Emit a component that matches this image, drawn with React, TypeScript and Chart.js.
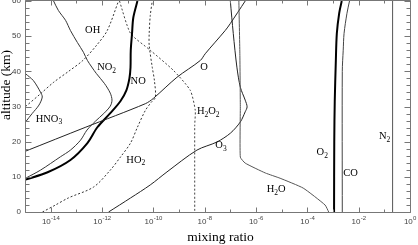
import React, { useEffect, useRef } from "react";
import { Chart, registerables } from "chart.js";

Chart.register(...registerables);

// ---- axes ----
const xTickExponents = [-15, -14, -13, -12, -11, -10, -9, -8, -7, -6, -5, -4, -3, -2, -1, 0];
const yTickValues = [0, 10, 20, 30, 40, 50, 60];
const xTitle = "mixing ratio";
const yTitle = "altitude (km)";

// ---- species profiles (mixing ratio, altitude km) ----
const n2Ratio = [0.21, 0.21];
const n2Alt = [0, 60];

const coRatio = [2.3e-3, 2.3e-3, 2.5e-3, 2.7e-3, 3.5e-3, 4.4e-3];
const coAlt = [0, 40, 46, 50.8, 56.5, 60];

const o2Ratio = [1.1e-3, 1.12e-3, 1.17e-3, 1.29e-3, 1.41e-3, 1.74e-3, 2.19e-3];
const o2Alt = [0, 20, 31.5, 43, 50.8, 56.5, 60];

const h2oRatio = [6.8e-4, 4.9e-4, 6.9e-5, 8.7e-6, 2.3e-6, 3.8e-7, 2.45e-7, 2.45e-7, 2.35e-7, 2.15e-7];
const h2oAlt = [0, 2.0, 6.8, 9.6, 11.1, 13.9, 15.6, 30, 45, 60];

const o3Ratio = [1.8e-12, 1.3e-11, 7.6e-11, 3.4e-10, 5.0e-9, 3.0e-8, 1.0e-7, 2.45e-7, 3.8e-7, 4.5e-7, 3.8e-7, 2.45e-7, 1.8e-7, 1.3e-7, 1.0e-7];
const o3Alt = [0, 4.0, 7.7, 11.4, 17.6, 19.9, 22.4, 25.6, 28.5, 29.9, 31.8, 35.5, 41.2, 50.8, 60];

const oRatio = [1.05e-15, 2.2e-13, 4.9e-11, 1.0e-10, 8.3e-10, 6.8e-9, 1.05e-8, 6.3e-8, 1.0e-7, 3.8e-7];
const oAlt = [17.3, 24.05, 30.8, 32.3, 38.3, 43.1, 45.0, 51.6, 53.6, 60];

const hno3Ratio = [1.05e-15, 2.1e-15, 4.0e-15, 4.7e-15, 3.5e-15, 1.9e-15, 1.05e-15];
const hno3Alt = [39.3, 37.4, 34.1, 32.7, 30.4, 28.0, 25.6];

const ohRatio = [1.05e-15, 4.0e-15, 1.26e-14, 5.0e-14, 1.8e-13, 6.3e-13, 1.6e-12, 4.4e-12];
const ohAlt = [30.0, 33.6, 36.8, 40.0, 43.1, 47.5, 51.6, 60];

const no2Ratio = [1.3e-14, 2.0e-14, 3.8e-14, 5.9e-14, 1.1e-13, 1.9e-13, 2.7e-13, 6.0e-13, 1.23e-12, 2.1e-12, 2.45e-12, 2.1e-12, 1.17e-12, 5.5e-13, 2.6e-13, 1.45e-13, 5.9e-14, 2.4e-14, 4.0e-15, 1.05e-15];
const no2Alt = [60, 57.3, 54.5, 51.6, 48.2, 45.4, 43.1, 39.4, 36.6, 33.8, 31.8, 30.1, 28.0, 25.8, 23.3, 20.4, 17.6, 15.7, 11.9, 9.6];

const noRatio = [2.4e-11, 1.66e-11, 1.48e-11, 1.32e-11, 1.29e-11, 1.17e-11, 8.9e-12, 5.2e-12, 2.1e-12, 6.6e-13, 2.7e-13, 5.9e-14, 7.6e-15, 1.05e-15];
const noAlt = [60, 55.3, 50.8, 46.0, 41.1, 38.0, 34.6, 31.5, 28.1, 24.1, 19.6, 14.8, 11.3, 9.2];

const ho2Ratio = [4.8e-15, 1.55e-14, 4.9e-14, 4.7e-13, 2.1e-12, 5.2e-12, 1.29e-11, 2.4e-11, 4.9e-11, 8.3e-11, 1.2e-10, 1.1e-10, 9.1e-11, 6.9e-11, 6.9e-11, 7.6e-11, 9.1e-11];
const ho2Alt = [0, 2.0, 4.0, 7.1, 11.9, 15.6, 19.6, 24.1, 28.9, 31.2, 32.6, 37.4, 41.1, 47.4, 50.8, 55.9, 60];

const h2o2Ratio = [4.8e-12, 1.29e-11, 7.6e-11, 6.0e-10, 2.75e-9, 4.3e-9, 4.1e-9, 4.1e-9];
const h2o2Alt = [60, 50.8, 46.0, 40.3, 34.6, 28.9, 24.7, 0];

// ---- curve labels ("_" marks a subscript digit) ----
const labelTexts = ["OH", "NO_2", "NO", "O", "H_2O_2", "O_3", "HO_2", "HNO_3", "H_2O", "O_2", "CO", "N_2"];
const labelRatio = [2.2e-13, 6.5e-13, 1.3e-11, 6.8e-9, 5.0e-9, 2.6e-8, 8.9e-12, 2.6e-15, 2.6e-6, 2.3e-4, 2.5e-3, 6.2e-2];
const labelAlt = [51.8, 41.1, 37.3, 41.3, 28.7, 19.0, 14.8, 26.5, 6.4, 17.0, 11.1, 21.6];

const pts = (r: number[], a: number[]) => r.map((v, i) => ({ x: v, y: a[i] }));

const SERIF = '"Liberation Serif", "Times New Roman", serif';
const SANS = '"Liberation Sans", Arial, sans-serif';

const decorPlugin = {
  id: "decor",
  afterDraw(chart: any) {
    const { ctx, chartArea } = chart;
    const xs = chart.scales.x;
    const ys = chart.scales.y;
    const L = chartArea.left, R = chartArea.right, T = chartArea.top, B = chartArea.bottom;
    ctx.save();
    // frame
    ctx.strokeStyle = "#777";
    ctx.lineWidth = 1;
    ctx.beginPath();
    ctx.rect(Math.round(L) + 0.5, Math.round(T) - 0.5, Math.round(R - L), Math.round(B - T) + 1);
    ctx.stroke();
    // x ticks (inward, top and bottom)
    ctx.beginPath();
    for (const t of xs.ticks) {
      const e = Math.round(Math.log10(t.value));
      const px = Math.round(xs.getPixelForValue(t.value)) + 0.5;
      const len = e % 2 === 0 ? 5 : 3;
      ctx.moveTo(px, B + 0.5);
      ctx.lineTo(px, B + 0.5 - len);
      ctx.moveTo(px, T - 0.5);
      ctx.lineTo(px, T - 0.5 + len);
    }
    // y ticks (inward, left and right), minor every 2 km
    for (let v = 0; v <= 60; v += 2) {
      const py = Math.round(ys.getPixelForValue(v)) + 0.5;
      const len = v % 10 === 0 ? 6 : 4;
      ctx.moveTo(L + 0.5, py);
      ctx.lineTo(L + 0.5 + len, py);
      ctx.moveTo(R + 0.5, py);
      ctx.lineTo(R + 0.5 - len, py);
    }
    ctx.stroke();

    // x tick labels with superscript exponents
    ctx.fillStyle = "#444";
    ctx.textBaseline = "alphabetic";
    ctx.textAlign = "left";
    for (const t of xs.ticks) {
      const e = Math.round(Math.log10(t.value));
      if (e % 2 !== 0 || e < -14) continue;
      const px = xs.getPixelForValue(t.value);
      const sup = String(e);
      ctx.font = `8px ${SANS}`;
      const w1 = ctx.measureText("10").width;
      ctx.font = `6px ${SANS}`;
      const w2 = ctx.measureText(sup).width;
      const x0 = px - (w1 + w2) / 2;
      ctx.font = `8px ${SANS}`;
      ctx.fillText("10", x0, B + 11.5);
      ctx.font = `6px ${SANS}`;
      ctx.fillText(sup, x0 + w1 + 0.3, B + 7.5);
    }

    // axis titles
    ctx.fillStyle = "#000";
    ctx.font = `13.5px ${SERIF}`;
    ctx.textAlign = "center";
    ctx.textBaseline = "alphabetic";
    ctx.fillText(xTitle, (L + R) / 2 + 3, 241);
    ctx.save();
    ctx.translate(10, 85);
    ctx.rotate(-Math.PI / 2);
    ctx.fillText(yTitle, 0, 0);
    ctx.restore();

    // curve labels
    ctx.textAlign = "left";
    ctx.textBaseline = "middle";
    ctx.fillStyle = "#000";
    labelTexts.forEach((txt, k) => {
      let cx = xs.getPixelForValue(labelRatio[k]);
      const cy = ys.getPixelForValue(labelAlt[k]);
      for (let i = 0; i < txt.length; i++) {
        let ch = txt[i];
        let sub = false;
        if (ch === "_") {
          sub = true;
          ch = txt[++i];
        }
        ctx.font = `${sub ? 7.5 : 10.5}px ${SERIF}`;
        ctx.fillText(ch, cx, sub ? cy + 3.5 : cy);
        cx += ctx.measureText(ch).width;
      }
    });
    ctx.restore();
  },
};

function line(data: { x: number; y: number }[], color: string, width: number, dash: number[] = [], tension = 0.3) {
  return {
    data,
    showLine: true,
    borderColor: color,
    borderWidth: width,
    borderDash: dash,
    pointRadius: 0,
    pointHoverRadius: 0,
    fill: false,
    tension,
  };
}

export default function App() {
  const ref = useRef<HTMLCanvasElement | null>(null);
  useEffect(() => {
    if (!ref.current) return;
    const chart = new Chart(ref.current, {
      type: "scatter",
      data: {
        datasets: [
          line(pts(n2Ratio, n2Alt), "#555", 1, [], 0),
          line(pts(coRatio, coAlt), "#444", 1),
          line(pts(o2Ratio, o2Alt), "#000", 2),
          line(pts(h2oRatio, h2oAlt), "#555", 1, [], 0.15),
          line(pts(o3Ratio, o3Alt), "#222", 1),
          line(pts(oRatio, oAlt), "#222", 1),
          line(pts(hno3Ratio, hno3Alt), "#333", 1),
          line(pts(ohRatio, ohAlt), "#333", 1, [2, 2]),
          line(pts(no2Ratio, no2Alt), "#333", 1),
          line(pts(noRatio, noAlt), "#000", 2),
          line(pts(ho2Ratio, ho2Alt), "#333", 1, [2, 2]),
          line(pts(h2o2Ratio, h2o2Alt), "#444", 1, [2, 2], 0.2),
        ] as any,
      },
      options: {
        animation: false,
        responsive: false,
        devicePixelRatio: 1,
        layout: { padding: { left: 0, right: 8, top: 1, bottom: 0 } },
        plugins: { legend: { display: false }, tooltip: { enabled: false } },
        events: [],
        scales: {
          x: {
            type: "logarithmic",
            position: "bottom",
            min: 1e-15,
            max: 1,
            grid: { display: false, drawTicks: false },
            border: { display: false },
            ticks: { display: false },
            afterBuildTicks: (scale: any) => {
              scale.ticks = xTickExponents.map((e) => ({ value: Math.pow(10, e) }));
            },
            afterFit: (scale: any) => {
              scale.height = 33;
              scale.paddingLeft = 0;
              scale.paddingRight = 0;
            },
          },
          y: {
            type: "linear",
            position: "left",
            min: 0,
            max: 60,
            grid: { display: false, drawTicks: false },
            border: { display: false },
            ticks: {
              stepSize: 10,
              padding: 4,
              color: "#444",
              font: { family: "Liberation Sans", size: 8 },
              callback: (v: any) => (yTickValues.includes(Number(v)) ? String(v) : ""),
            },
            afterFit: (scale: any) => {
              scale.width = 25;
              scale.paddingTop = 0;
              scale.paddingBottom = 0;
            },
          },
        },
      } as any,
      plugins: [decorPlugin],
    });
    return () => chart.destroy();
  }, []);
  return (
    <div style={{ position: "absolute", left: 0, top: 0, width: 418, height: 245, background: "#fff" }}>
      <canvas ref={ref} width={418} height={245} style={{ width: 418, height: 245, display: "block" }} />
    </div>
  );
}
